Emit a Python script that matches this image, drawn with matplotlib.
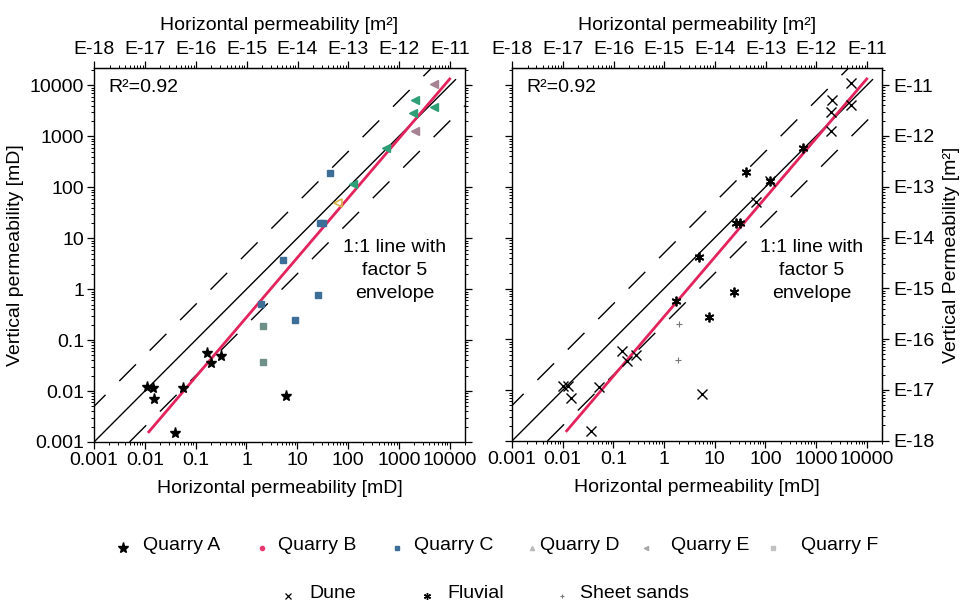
import numpy as np
import matplotlib
matplotlib.use("Agg")
import matplotlib.pyplot as plt
from matplotlib.ticker import FixedLocator, FixedFormatter, LogLocator, NullFormatter

plt.rcParams['font.family'] = ['Liberation Sans', 'DejaVu Sans']
plt.rcParams['font.size'] = 14

MD_TO_M2 = 9.869233e-16

# ---- axis ticks ----
md_ticks = [0.001, 0.01, 0.1, 1, 10, 100, 1000, 10000]
md_labels = ["0.001", "0.01", "0.1", "1", "10", "100", "1000", "10000"]
m2_ticks = [1e-18, 1e-17, 1e-16, 1e-15, 1e-14, 1e-13, 1e-12, 1e-11]
m2_labels = ["E-18", "E-17", "E-16", "E-15", "E-14", "E-13", "E-12", "E-11"]

# ---- quarry data (horizontal kh, vertical kv in mD) ----
qa_h = [0.0109, 0.0142, 0.0155, 0.057, 0.164, 0.197, 0.31, 5.96, 0.040]
qa_v = [0.0122, 0.0113, 0.0071, 0.0113, 0.057, 0.036, 0.048, 0.0081, 0.0015]

qc_h = [44, 27.5, 32, 5.3, 25.7, 1.9, 9.0]
qc_v = [187, 19.7, 19.7, 3.8, 0.78, 0.52, 0.25]

qd_h = [2.07, 2.07]
qd_v = [0.19, 0.038]

qd2_h = [63]
qd2_v = [50]

qe_h = [2040, 1900, 5000, 570, 126]
qe_v = [5100, 2850, 3750, 590, 118]

qf_h = [5000, 2040]
qf_v = [10800, 1260]

# ---- facies data ----
dune_h = [4800, 2100, 1950, 5000, 1950, 122, 64, 0.15, 0.19, 0.28,
          0.0100, 0.013, 0.0145, 0.052, 5.6, 0.037]
dune_v = [11200, 5200, 3000, 4050, 1260, 130, 50, 0.060, 0.038, 0.049,
          0.012, 0.012, 0.0071, 0.0116, 0.0083, 0.0016]

fluv_h = [540, 41, 122, 26, 31, 4.8, 1.74, 24, 7.8]
fluv_v = [590, 195, 130, 19.5, 20, 4.2, 0.56, 0.84, 0.27]

sheet_h = [1.9, 2.0]
sheet_v = [0.039, 0.20]

# ---- power-law fit kv = a * kh^b ----
fit_a = 0.28
fit_b = 1.17
fit_range = [0.012, 10000]
r2_text = "R²=0.92"
envelope = 5.0

W, H = 967, 609
fig = plt.figure(figsize=(W / 100, H / 100), dpi=100)


def box(l, t, r, b):
    return [l / W, 1 - b / H, (r - l) / W, (b - t) / H]


axL = fig.add_axes(box(94, 68, 465, 442))
axR = fig.add_axes(box(512, 68, 882, 441))


def style_axes(ax):
    ax.set_xscale('log')
    ax.set_yscale('log')
    ax.set_xlim(1e-3, 2e4)
    ax.set_ylim(1e-3, 2.2e4)
    ax.xaxis.set_major_locator(FixedLocator(md_ticks))
    ax.xaxis.set_major_formatter(FixedFormatter(md_labels))
    ax.yaxis.set_major_locator(FixedLocator(md_ticks))
    ax.yaxis.set_major_formatter(FixedFormatter(md_labels))
    ax.xaxis.set_minor_locator(LogLocator(base=10, subs=np.arange(2, 10), numticks=20))
    ax.yaxis.set_minor_locator(LogLocator(base=10, subs=np.arange(2, 10), numticks=20))
    ax.xaxis.set_minor_formatter(NullFormatter())
    ax.yaxis.set_minor_formatter(NullFormatter())
    ax.tick_params(which='major', direction='out', length=5, width=0.9,
                   labelsize=14, pad=2)
    ax.tick_params(which='minor', direction='out', length=2.5, width=0.7)
    for s in ax.spines.values():
        s.set_linewidth(1.0)

    # 1:1 line and factor-5 envelope
    one = np.array([1e-3, 1.3e4])
    ax.plot(one, one, color='black', lw=1.0, zorder=2)
    up = np.array([1e-3 / envelope, 2.2e4 / envelope])
    ax.plot(up, up * envelope, color='black', lw=1.0, dashes=(17, 14), zorder=2)
    lo = np.array([1e-3 * envelope, 2e4])
    ax.plot(lo, lo / envelope, color='black', lw=1.0, dashes=(17, 14), zorder=2)

    # fitted power law
    fx = np.logspace(np.log10(fit_range[0]), np.log10(fit_range[1]), 50)
    ax.plot(fx, fit_a * fx ** fit_b, color='#e3245c', lw=2.0, zorder=4)

    ax.text(0.04, 0.97, r2_text, transform=ax.transAxes, ha='left', va='top',
            fontsize=14)
    ax.text(0.81, 0.458, "1:1 line with\nfactor 5\nenvelope", transform=ax.transAxes,
            ha='center', va='center', fontsize=14, linespacing=1.45)

    top = ax.secondary_xaxis('top', functions=(lambda x: x * MD_TO_M2,
                                               lambda k: k / MD_TO_M2))
    top.xaxis.set_major_locator(FixedLocator(m2_ticks))
    top.xaxis.set_major_formatter(FixedFormatter(m2_labels))
    top.xaxis.set_minor_locator(LogLocator(base=10, subs=np.arange(2, 10), numticks=20))
    top.xaxis.set_minor_formatter(NullFormatter())
    top.tick_params(which='major', direction='out', length=5, width=0.9,
                    labelsize=14, pad=2)
    top.tick_params(which='minor', direction='out', length=2.5, width=0.7)
    top.set_xlabel("Horizontal permeability [m²]", fontsize=14, labelpad=8)
    ax.set_xlabel("Horizontal permeability [mD]", fontsize=14, labelpad=8)
    return top


style_axes(axL)
style_axes(axR)

# left panel: right-hand ticks without labels
axL.tick_params(axis='y', which='both', right=True, labelright=False)
axL.set_ylabel("Vertical permeability [mD]", fontsize=14, labelpad=4)

# right panel: left ticks, unlabeled; m² scale on the right
axR.tick_params(axis='y', which='both', left=True, labelleft=False)
sec = axR.secondary_yaxis('right', functions=(lambda x: x * MD_TO_M2,
                                              lambda k: k / MD_TO_M2))
sec.yaxis.set_major_locator(FixedLocator(m2_ticks))
sec.yaxis.set_major_formatter(FixedFormatter(m2_labels))
sec.yaxis.set_minor_locator(LogLocator(base=10, subs=np.arange(2, 10), numticks=20))
sec.yaxis.set_minor_formatter(NullFormatter())
sec.tick_params(which='major', direction='out', length=5, width=0.9, labelsize=14, pad=3)
sec.tick_params(which='minor', direction='out', length=2.5, width=0.7)
sec.set_ylabel("Vertical Permeability [m²]", fontsize=14, labelpad=6)

# ---- styles ----
c_qb = '#e8386d'
c_qc = '#3d6e98'
c_qd = '#6e9088'
c_qd2 = '#d8b54a'
c_qe = '#2f9f78'
c_qf = '#a58392'

axL.plot(qa_h, qa_v, ls='none', marker='*', ms=8, color='black', zorder=5)
axL.plot(qc_h, qc_v, ls='none', marker='s', ms=5, color=c_qc, zorder=5)
axL.plot(qd_h, qd_v, ls='none', marker='s', ms=5, color=c_qd, zorder=5)
axL.plot(qd2_h, qd2_v, ls='none', marker='<', ms=6, mfc='none', mew=1.2,
         color=c_qd2, zorder=5)
axL.plot(qe_h, qe_v, ls='none', marker='<', ms=6, color=c_qe, zorder=5)
axL.plot(qf_h, qf_v, ls='none', marker='<', ms=6, color=c_qf, zorder=5)

axR.plot(dune_h, dune_v, ls='none', marker='x', ms=7, mew=1.0, color='black', zorder=5)
axR.plot(fluv_h, fluv_v, ls='none', marker=(6, 2, 0), ms=7, mew=1.3, color='black', zorder=5)
axR.plot(sheet_h, sheet_v, ls='none', marker='+', ms=4, mew=0.8, color='#777777', zorder=5)

# ---- legend rows ----
lg = fig.add_axes([0, 0, 1, 1], facecolor='none')
lg.set_xlim(0, W)
lg.set_ylim(H, 0)
lg.axis('off')

row1 = [("Quarry A", dict(marker='*', ms=8, color='black'), 123, 143),
        ("Quarry B", dict(marker='o', ms=3, color=c_qb), 262, 278),
        ("Quarry C", dict(marker='s', ms=3, color=c_qc), 397, 414),
        ("Quarry D", dict(marker='^', ms=3, color='#b9b9b9'), 532, 540),
        ("Quarry E", dict(marker='<', ms=3, color='#a8a8a8'), 646, 671),
        ("Quarry F", dict(marker='s', ms=3, color='#c2c2c2'), 773, 801)]
row2 = [("Dune", dict(marker='x', ms=5, mew=0.9, color='black'), 288, 309),
        ("Fluvial", dict(marker=(6, 2, 0), ms=5, mew=1.0, color='black'), 427, 447),
        ("Sheet sands", dict(marker='+', ms=3, mew=0.8, color='#777777'), 562, 580)]
for entries, y in ((row1, 546), (row2, 594)):
    for label, mk, mx, tx in entries:
        lg.plot([mx], [y + 2], ls='none', **mk)
        lg.text(tx, y, label, ha='left', va='center', fontsize=14)

fig.savefig("out.png", dpi=100)
